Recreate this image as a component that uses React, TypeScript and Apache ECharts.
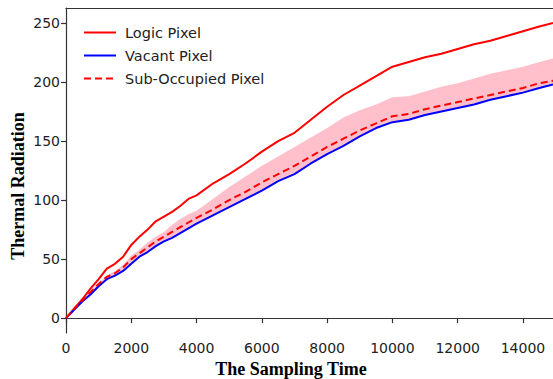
import React, { useEffect, useRef } from "react";
import * as echarts from "echarts";

const times = [0, 250, 500, 750, 1000, 1250, 1500, 1750, 2000, 2250, 2500, 2750, 3000, 3250, 3500, 3750, 4000, 4500, 5000, 5500, 6000, 6500, 7000, 7500, 8000, 8500, 9000, 9500, 10000, 10500, 11000, 11500, 12000, 12500, 13000, 13500, 14000, 14500, 14920];

const logicPixel = [0, 8, 16, 25, 33, 42, 46, 52, 62, 69, 75, 82, 86, 90, 95, 101, 104, 114, 122, 131, 141, 150, 157, 168, 179, 189, 197, 205, 213, 217, 221, 224, 228, 232, 235, 239, 243, 247, 250];

const vacantPixel = [0, 7, 14, 20, 27, 33, 36, 40, 46, 52, 56, 61, 65, 68, 72, 76, 80, 87, 94, 101, 108, 116, 122, 131, 139, 146, 154, 161, 166, 168, 172, 175, 178, 181, 185, 188, 191, 195, 198];

const subOccupiedPixel = [0, 8, 15, 22, 29, 35, 38, 43, 50, 55, 60, 65, 69, 73, 77, 81, 85, 92, 100, 107, 115, 122, 129, 137, 145, 152, 159, 165, 171, 173, 177, 180, 183, 186, 189, 192, 195, 199, 201];

const bandLower = [0, 7, 14, 20, 27, 33, 36, 40, 46, 52, 56, 61, 65, 68, 72, 76, 80, 87, 94, 101, 108, 116, 122, 131, 139, 146, 154, 161, 166, 168, 172, 175, 178, 181, 185, 188, 191, 195, 198];

const bandUpper = [0, 8, 15, 23, 30, 36, 40, 45, 53, 58, 64, 69, 73, 79, 84, 88, 91, 101, 111, 120, 129, 137, 145, 153, 161, 170, 176, 181, 187, 188, 192, 196, 199, 203, 207, 210, 213, 217, 220];

const xTicks = [0, 2000, 4000, 6000, 8000, 10000, 12000, 14000];
const yTicks = [0, 50, 100, 150, 200, 250];

export default function App() {
  const ref = useRef<HTMLDivElement>(null);
  useEffect(() => {
    if (!ref.current) return;
    const chart = echarts.init(ref.current, null, { renderer: "svg" });
    const pair = (arr: number[]) => times.map((t, i) => [t, arr[i]]);
    const axisColor = "#333";
    const labelStyle = {
      color: "#222",
      fontFamily: "DejaVu Sans",
      fontSize: 14,
    };
    chart.setOption({
      animation: false,
      backgroundColor: "#fff",
      grid: { left: 66, right: 0, top: 8, bottom: 46, containLabel: false },
      legend: {
        data: [
          { name: "Logic Pixel" },
          { name: "Vacant Pixel" },
          { name: "Sub-Occupied Pixel" },
        ],
        orient: "vertical",
        left: 78,
        top: 20,
        itemWidth: 32,
        itemHeight: 14,
        itemGap: 8,
        itemStyle: { opacity: 0 },
        textStyle: { ...labelStyle, fontSize: 14.5, color: "#222", padding: [0, 0, 0, 4] },
      },
      xAxis: [
        {
          type: "value",
          min: 0,
          max: 14920,
          axisLine: { show: true, lineStyle: { color: axisColor, width: 1.2 } },
          axisTick: { show: true, length: 5, lineStyle: { color: axisColor, width: 1.2 }, customValues: xTicks },
          axisLabel: { ...labelStyle, margin: 8, customValues: xTicks, formatter: (v: number) => String(v) },
          splitLine: { show: false },
        },
        {
          type: "value",
          position: "top",
          min: 0,
          max: 14920,
          axisLine: { show: true, lineStyle: { color: axisColor, width: 1.2 } },
          axisTick: { show: false },
          axisLabel: { show: false },
          splitLine: { show: false },
        },
      ],
      yAxis: {
        type: "value",
        min: -12.6,
        max: 262.7,
        axisLine: { show: true, lineStyle: { color: axisColor, width: 1.2 } },
        axisTick: { show: true, length: 5, lineStyle: { color: axisColor, width: 1.2 }, customValues: yTicks },
        axisLabel: { ...labelStyle, margin: 6, customValues: yTicks, formatter: (v: number) => String(v) },
        splitLine: { show: false },
      },
      graphic: [
        {
          type: "text",
          x: 291,
          y: 369,
          style: {
            text: "The Sampling Time",
            fontFamily: "Liberation Serif",
            fontWeight: "bold",
            fontSize: 18,
            fill: "#000",
            align: "center",
            verticalAlign: "middle",
          },
        },
        {
          type: "text",
          x: 18,
          y: 186,
          rotation: Math.PI / 2,
          style: {
            text: "Thermal Radiation",
            fontFamily: "Liberation Serif",
            fontWeight: "bold",
            fontSize: 18,
            fill: "#000",
            align: "center",
            verticalAlign: "middle",
          },
        },
      ],
      series: [
        {
          name: "band",
          type: "custom",
          xAxisIndex: 0,
          yAxisIndex: 0,
          silent: true,
          z: 1,
          data: [[0, 0]],
          renderItem: (params: any, api: any) => {
            if (params.dataIndex !== 0) return null;
            const pts: number[][] = [];
            for (let i = 0; i < times.length; i++) pts.push(api.coord([times[i], bandUpper[i]]));
            for (let i = times.length - 1; i >= 0; i--) pts.push(api.coord([times[i], bandLower[i]]));
            return {
              type: "polygon",
              shape: { points: pts },
              style: { fill: "#ffc0cb", stroke: "none" },
            };
          },
        },
        {
          name: "Logic Pixel",
          type: "line",
          data: pair(logicPixel),
          symbol: "none",
          lineStyle: { color: "#ff0000", width: 2 },
          itemStyle: { color: "#ff0000" },
          z: 3,
        },
        {
          name: "Vacant Pixel",
          type: "line",
          data: pair(vacantPixel),
          symbol: "none",
          lineStyle: { color: "#0000ff", width: 2 },
          itemStyle: { color: "#0000ff" },
          z: 3,
        },
        {
          name: "Sub-Occupied Pixel",
          type: "line",
          data: pair(subOccupiedPixel),
          symbol: "none",
          lineStyle: { color: "#ff0000", width: 2, type: [7, 4] },
          itemStyle: { color: "#ff0000" },
          z: 4,
        },
      ],
    });
    return () => chart.dispose();
  }, []);
  return (
    <div
      ref={ref}
      style={{ position: "fixed", left: 0, top: 0, width: 553, height: 379, background: "#fff" }}
    />
  );
}
